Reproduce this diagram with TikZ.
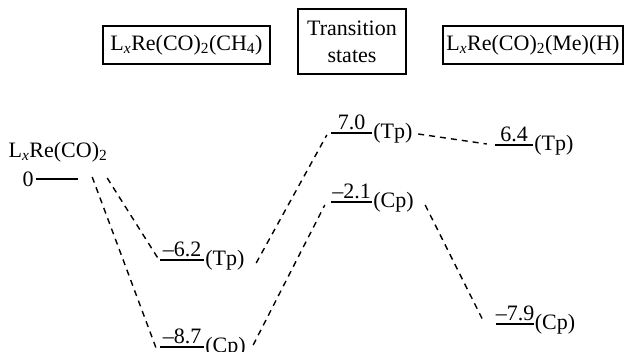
\documentclass[tikz,border=0pt]{standalone}
\usepackage{fontspec}
\setmainfont{Liberation Serif}
\begin{document}
\begin{tikzpicture}[x=1pt,y=-1pt,
  every node/.style={font=\fontsize{22}{27}\selectfont},
  hdr/.style={draw, line width=1.2pt, inner sep=0pt, align=center},
  lvl/.style={inner sep=0pt, minimum height=0pt},
  lvlline/.style={line width=1.4pt},
  conn/.style={line width=1.4pt, dash pattern=on 6pt off 5pt},
  num/.style={above, inner sep=3pt},
  tag/.style={anchor=west, inner sep=1pt}]
\useasboundingbox (0,0) rectangle (624,352);
\newcommand{\sx}{\textsubscript{\itshape x}}
% header boxes
\node[hdr, minimum width=167pt, minimum height=38pt] (h1) at (186.5,45) {L\sx Re(CO)\textsubscript{2}(CH\textsubscript{4})};
\node[hdr, minimum width=108pt, minimum height=65pt] (h2) at (352,41.5) {Transition\\states};
\node[hdr, minimum width=180pt, minimum height=38pt] (h3) at (533,45) {L\sx Re(CO)\textsubscript{2}(Me)(H)};
% levels
\node[lvl, minimum width=42pt] (L0) at (57,179) {};
\node[lvl, minimum width=44pt] (A) at (182,260) {};
\node[lvl, minimum width=44pt] (B) at (182,347) {};
\node[lvl, minimum width=41pt] (C) at (351.5,133) {};
\node[lvl, minimum width=41pt] (D) at (351.5,202) {};
\node[lvl, minimum width=38pt] (E) at (514,145) {};
\node[lvl, minimum width=37pt] (F) at (515,324) {};
\foreach \n in {L0,A,B,C,D,E,F} \draw[lvlline] (\n.west) -- (\n.east);
% labels
\node[anchor=east, inner sep=2pt] (z) at (L0.west) {0};
\node (lab0) at (58,152) {L\sx Re(CO)\textsubscript{2}};
\node[num] (nA) at (A) {–6.2};
\node[tag] (tA) at (A.east) {(Tp)};
\node[num] (nB) at (B) {–8.7};
\node[tag] (tB) at (B.east) {(Cp)};
\node[num] (nC) at (C) {7.0};
\node[tag] (tC) at (C.east) {(Tp)};
\node[num] (nD) at (D) {–2.1};
\node[tag] (tD) at (D.east) {(Cp)};
\node[num] (nE) at (E) {6.4};
\node[tag] (tE) at (E.east) {(Tp)};
\node[num] (nF) at (F) {–7.9};
\node[tag] (tF) at (F.east) {(Cp)};
% connectors
\draw[conn] ([xshift=29pt,yshift=1pt]L0.east) -- ([xshift=-2pt,yshift=2pt]A.west);
\draw[conn] ([xshift=14pt,yshift=2pt]L0.east) -- ([xshift=-3pt,yshift=-3pt]B.west);
\draw[conn] ([xshift=52pt,yshift=-3pt]A.east) -- ([xshift=-4pt,yshift=-2pt]C.west);
\draw[conn] ([xshift=49pt,yshift=2pt]B.east) -- ([xshift=-6pt,yshift=-3pt]D.west);
\draw[conn] ([xshift=46pt,yshift=-1pt]C.east) -- ([xshift=-8pt,yshift=1pt]E.west);
\draw[conn] ([xshift=53pt,yshift=-3pt]D.east) -- ([xshift=-12pt,yshift=1pt]F.west);
\end{tikzpicture}
\end{document}
